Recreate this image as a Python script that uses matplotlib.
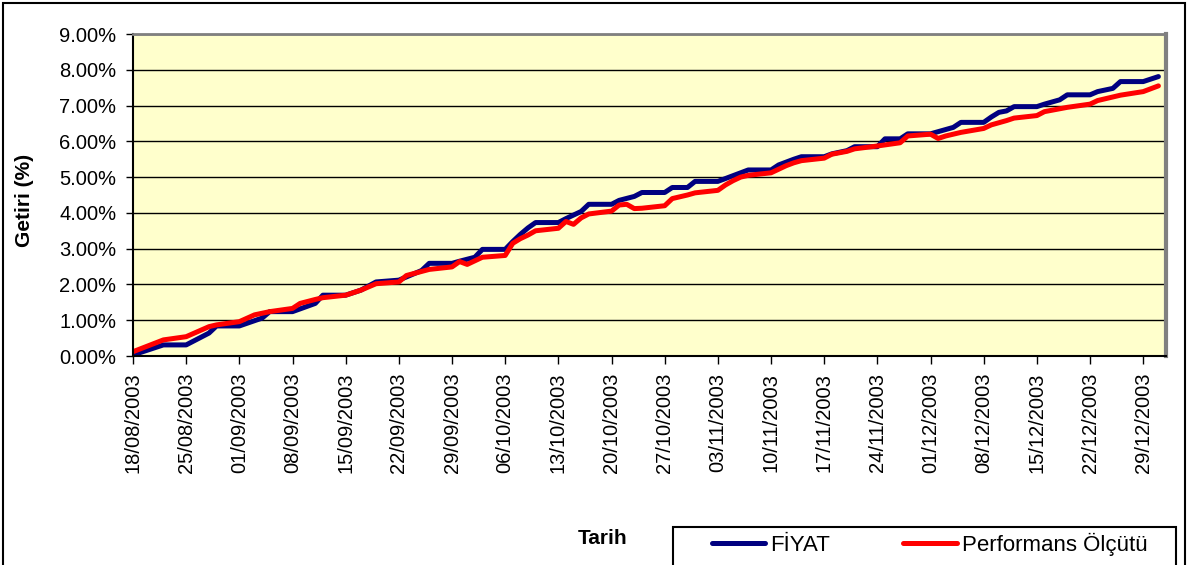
import pandas as pd
import matplotlib
matplotlib.use("Agg")
import matplotlib.pyplot as plt
import matplotlib.dates as mdates
from matplotlib.patches import Rectangle
from matplotlib.ticker import FuncFormatter

plt.rcParams['font.family'] = ['Liberation Sans', 'DejaVu Sans']

# FİYAT (fund price return, %)
fiyat_dates = [
    '18/08/2003', '22/08/2003', '25/08/2003', '28/08/2003', '29/08/2003',
    '01/09/2003', '04/09/2003', '05/09/2003', '08/09/2003', '11/09/2003',
    '12/09/2003', '15/09/2003', '17/09/2003', '19/09/2003', '22/09/2003',
    '25/09/2003', '26/09/2003', '29/09/2003', '30/09/2003', '02/10/2003',
    '03/10/2003', '06/10/2003', '07/10/2003', '08/10/2003', '09/10/2003',
    '10/10/2003', '13/10/2003', '14/10/2003', '16/10/2003', '17/10/2003',
    '20/10/2003', '21/10/2003', '23/10/2003', '24/10/2003', '27/10/2003',
    '28/10/2003', '30/10/2003', '31/10/2003', '03/11/2003', '05/11/2003',
    '07/11/2003', '10/11/2003', '11/11/2003', '12/11/2003', '13/11/2003',
    '14/11/2003', '17/11/2003', '18/11/2003', '20/11/2003', '21/11/2003',
    '24/11/2003', '25/11/2003', '27/11/2003', '28/11/2003', '01/12/2003',
    '02/12/2003', '04/12/2003', '05/12/2003', '08/12/2003', '09/12/2003',
    '10/12/2003', '11/12/2003', '12/12/2003', '15/12/2003', '16/12/2003',
    '18/12/2003', '19/12/2003', '22/12/2003', '23/12/2003', '25/12/2003',
    '26/12/2003', '29/12/2003', '30/12/2003', '31/12/2003',
]
fiyat = [
    0.03, 0.31, 0.31, 0.64, 0.84,
    0.84, 1.06, 1.24, 1.24, 1.47,
    1.70, 1.70, 1.84, 2.07, 2.12,
    2.39, 2.59, 2.59, 2.65, 2.76,
    2.98, 2.98, 3.20, 3.40, 3.58,
    3.73, 3.73, 3.84, 4.04, 4.24,
    4.24, 4.35, 4.46, 4.57, 4.57,
    4.71, 4.71, 4.88, 4.88, 5.04,
    5.20, 5.20, 5.34, 5.42, 5.50,
    5.57, 5.57, 5.65, 5.74, 5.85,
    5.85, 6.07, 6.07, 6.21, 6.21,
    6.27, 6.39, 6.53, 6.53, 6.68,
    6.81, 6.85, 6.97, 6.97, 7.04,
    7.16, 7.30, 7.30, 7.39, 7.48,
    7.67, 7.67, 7.74, 7.81,
]

# Performans Ölçütü (benchmark return, %)
olcut_dates = [
    '18/08/2003', '22/08/2003', '25/08/2003', '28/08/2003', '29/08/2003',
    '01/09/2003', '03/09/2003', '05/09/2003', '08/09/2003', '09/09/2003',
    '11/09/2003', '12/09/2003', '15/09/2003', '17/09/2003', '19/09/2003',
    '22/09/2003', '23/09/2003', '26/09/2003', '29/09/2003', '30/09/2003',
    '01/10/2003', '03/10/2003', '06/10/2003', '07/10/2003', '08/10/2003',
    '09/10/2003', '10/10/2003', '13/10/2003', '14/10/2003', '15/10/2003',
    '16/10/2003', '17/10/2003', '20/10/2003', '21/10/2003', '22/10/2003',
    '23/10/2003', '24/10/2003', '27/10/2003', '28/10/2003', '30/10/2003',
    '31/10/2003', '03/11/2003', '04/11/2003', '05/11/2003', '06/11/2003',
    '07/11/2003', '10/11/2003', '11/11/2003', '12/11/2003', '13/11/2003',
    '14/11/2003', '17/11/2003', '18/11/2003', '19/11/2003', '20/11/2003',
    '21/11/2003', '24/11/2003', '27/11/2003', '28/11/2003', '01/12/2003',
    '02/12/2003', '03/12/2003', '04/12/2003', '05/12/2003', '08/12/2003',
    '09/12/2003', '10/12/2003', '11/12/2003', '12/12/2003', '15/12/2003',
    '16/12/2003', '17/12/2003', '18/12/2003', '19/12/2003', '22/12/2003',
    '23/12/2003', '24/12/2003', '25/12/2003', '26/12/2003', '29/12/2003',
    '30/12/2003', '31/12/2003',
]
olcut = [
    0.12, 0.45, 0.54, 0.82, 0.87,
    0.96, 1.15, 1.24, 1.33, 1.47,
    1.58, 1.63, 1.70, 1.84, 2.02,
    2.07, 2.25, 2.42, 2.49, 2.64,
    2.56, 2.76, 2.81, 3.15, 3.28,
    3.38, 3.50, 3.57, 3.76, 3.68,
    3.86, 3.97, 4.05, 4.22, 4.24,
    4.12, 4.13, 4.20, 4.40, 4.50,
    4.56, 4.63, 4.78, 4.90, 5.00,
    5.05, 5.12, 5.22, 5.32, 5.40,
    5.46, 5.53, 5.64, 5.68, 5.72,
    5.79, 5.87, 5.96, 6.15, 6.20,
    6.08, 6.15, 6.20, 6.25, 6.36,
    6.46, 6.52, 6.58, 6.65, 6.72,
    6.83, 6.87, 6.91, 6.95, 7.04,
    7.14, 7.19, 7.24, 7.29, 7.39,
    7.47, 7.55,
]

x_fiyat = pd.to_datetime(fiyat_dates, format='%d/%m/%Y')
x_olcut = pd.to_datetime(olcut_dates, format='%d/%m/%Y')

W, H = 1187, 565
fig = plt.figure(figsize=(W / 100, H / 100), dpi=100)
ax = fig.add_axes([133 / W, 1 - 356 / H, (1166 - 133) / W, (356 - 34) / H])
ax.set_facecolor('#FFFFCC')

l1, = ax.plot(x_fiyat, fiyat, color='#000080', lw=3.6,
              solid_joinstyle='round', solid_capstyle='round', label='FİYAT')
l2, = ax.plot(x_olcut, olcut, color='#FF0000', lw=3.6,
              solid_joinstyle='round', solid_capstyle='round',
              label='Performans Ölçütü')

ax.set_ylim(0, 9)
ax.set_yticks(range(0, 10))
ax.yaxis.set_major_formatter(FuncFormatter(lambda v, p: '%.2f%%' % v))
ax.grid(axis='y', color='black', lw=1)
ax.set_axisbelow(True)

# weekly date ticks, Excel-style date axis
ax.set_xlim(pd.Timestamp('2003-08-18'), pd.Timestamp('2004-01-01'))
ticks = pd.date_range('2003-08-18', '2003-12-29', freq='7D')
ax.set_xticks(ticks)
ax.xaxis.set_major_formatter(mdates.DateFormatter('%d/%m/%Y'))
ax.tick_params(axis='x', rotation=90, length=6, width=1, pad=6, labelsize=14.5)
ax.tick_params(axis='y', length=5, width=1, pad=7, labelsize=14.5)

for s in ['left', 'bottom']:
    ax.spines[s].set_color('black')
    ax.spines[s].set_linewidth(1.5)
ax.spines['top'].set_color('#808080')
ax.spines['top'].set_linewidth(2)
ax.spines['right'].set_color('#808080')
ax.spines['right'].set_linewidth(3)

fig.text(25 / W, 1 - 200 / H, 'Getiri (%)', rotation=90, fontsize=15,
         fontweight='bold', ha='center', va='center')
fig.text(603 / W, 1 - 538 / H, 'Tarih', fontsize=15, fontweight='bold',
         ha='center', va='center')

# outer chart border and legend box (both run off the bottom edge)
fig.patches.append(Rectangle((3 / W, -0.1), 1182 / W, 1 - 3 / H + 0.1,
                             transform=fig.transFigure, fill=False,
                             ec='black', lw=1.5))
fig.patches.append(Rectangle((673 / W, -0.1), (1176 - 673) / W, 1 - 527 / H + 0.1,
                             transform=fig.transFigure, fill=False,
                             ec='black', lw=1.5))

fig.legend(handles=[l1, l2], loc='center left',
           bbox_to_anchor=(712 / W, 1 - 544 / H), ncol=2, frameon=False,
           fontsize=16, handlelength=2.4, handletextpad=0.22,
           columnspacing=3.3, borderpad=0, borderaxespad=0)

fig.savefig('out.png', dpi=100)
